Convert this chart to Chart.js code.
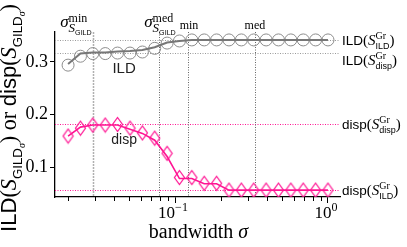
<!DOCTYPE html>
<html>
<head>
<meta charset="utf-8">
<script src="https://cdn.jsdelivr.net/npm/chart.js@4/dist/chart.umd.min.js"></script>
<style>
  html, body { margin: 0; padding: 0; background: #fff; }
  #wrap { width: 407px; height: 247px; }
</style>
</head>
<body>
<div id="wrap"><canvas id="chart" width="407" height="247"></canvas></div>
<script>
// bandwidth values (22 log-spaced points, 0.02 .. 1)
const sigma = [0.02, 0.0241, 0.0290, 0.0350, 0.0421, 0.0508, 0.0612, 0.0737, 0.0888, 0.1069, 0.1288,
               0.1552, 0.1870, 0.2253, 0.2714, 0.3270, 0.3940, 0.4747, 0.5719, 0.6890, 0.8301, 1.0];
const ildMarks  = [0.294, 0.311, 0.316, 0.316, 0.317, 0.317, 0.319, 0.326, 0.336, 0.340, 0.342,
                   0.342, 0.342, 0.342, 0.342, 0.342, 0.342, 0.342, 0.342, 0.342, 0.342, 0.342];
const ildLine   = [0.296, 0.316, 0.318, 0.318, 0.320, 0.321, 0.323, 0.328, 0.337, 0.340, 0.342,
                   0.342, 0.342, 0.342, 0.342, 0.342, 0.342, 0.342, 0.342, 0.342, 0.342, 0.342];
const dispMarks = [0.159, 0.174, 0.180, 0.180, 0.181, 0.174, 0.165, 0.155, 0.126, 0.080, 0.080,
                   0.069, 0.069, 0.056, 0.056, 0.056, 0.056, 0.056, 0.056, 0.056, 0.056, 0.056];
const dispLine  = [0.159, 0.176, 0.180, 0.180, 0.180, 0.172, 0.164, 0.151, 0.120, 0.078, 0.078,
                   0.068, 0.068, 0.056, 0.056, 0.056, 0.056, 0.056, 0.056, 0.056, 0.056, 0.056];

// reference levels: ILD(S_ILD), ILD(S_disp), disp(S_disp), disp(S_ILD)
const refLevels = [0.342, 0.317, 0.181, 0.056];
const refKinds  = ['ILD', 'ILD', 'disp', 'disp'];
const refSubs   = ['ILD', 'disp', 'disp', 'ILD'];
// vertical markers: sigma_min, sigma_med, min, med
const vLines = [0.029, 0.0786, 0.1216, 0.333];

const xTicks = [0.02, 0.03, 0.04, 0.05, 0.06, 0.07, 0.08, 0.09, 0.1, 0.2, 0.3, 0.4, 0.5, 0.6, 0.7, 0.8, 0.9, 1];
const xMajor = [0.1, 1];
const xMajorExp = ['\u22121', '0'];
const yTicks = [0.1, 0.2, 0.3];

const SERIF = '"Liberation Serif", "DejaVu Serif", serif';
const SANS = '"Liberation Sans", "DejaVu Sans", sans-serif';
const PINK = '#ff1493';
const f = (size, fam, style) => `${style || ''} ${size}px ${fam}`;

function makeDiamond(color) {
    const c = document.createElement('canvas');
    c.width = 13; c.height = 17;
    const g = c.getContext('2d');
    g.strokeStyle = color;
    g.lineWidth = 1.25;
    g.beginPath();
    g.moveTo(6.5, 1.5); g.lineTo(11.5, 8.5); g.lineTo(6.5, 15.5); g.lineTo(1.5, 8.5);
    g.closePath();
    g.stroke();
    return c;
}

// small rich-text helpers: a run is a list of [text, font, dy] or {up: run, dn: run}
function segWidth(ctx, s) {
    if (Array.isArray(s)) { ctx.font = s[1]; return ctx.measureText(s[0]).width; }
    return Math.max(runWidth(ctx, s.up), runWidth(ctx, s.dn));
}
function runWidth(ctx, run) {
    return run.reduce((w, s) => w + segWidth(ctx, s), 0);
}
function drawRun(ctx, run, x, y) {
    for (const s of run) {
        if (Array.isArray(s)) {
            ctx.font = s[1];
            ctx.fillText(s[0], x, y + (s[2] || 0));
            x += ctx.measureText(s[0]).width;
        } else {
            const w = segWidth(ctx, s);
            drawRun(ctx, s.up, x, y);
            drawRun(ctx, s.dn, x, y);
            x += w;
        }
    }
    return x;
}
function drawRich(ctx, run, x, y, align) {
    const w = runWidth(ctx, run);
    const x0 = align === 'center' ? x - w / 2 : align === 'right' ? x - w : x;
    ctx.textAlign = 'left';
    ctx.textBaseline = 'alphabetic';
    drawRun(ctx, run, x0, y);
}

function sGild(size) {
    return [['S', f(size, SERIF, 'italic'), 5], ['GILD', f(size * 0.55, SANS), 8]];
}
function yTitleRun(B) {
    const part = (name) => [
        [name, f(B, SANS)], ['(', f(B, SERIF)], ['S', f(B, SERIF, 'italic')],
        ['GILD', f(B * 0.6, SANS), B * 0.25], ['\u03c3', f(B * 0.45, SERIF, 'italic'), B * 0.42],
        [')', f(B, SERIF)]
    ];
    return [...part('ILD'), [' or ', f(B, SERIF)], ...part('disp')];
}

const overlay = {
    id: 'overlay',
    beforeDatasetsDraw(chart) {
        const { ctx, chartArea: a, scales: { x, y } } = chart;
        ctx.save();
        refLevels.forEach((v, i) => {
            const py = Math.round(y.getPixelForValue(v)) + 0.5;
            ctx.strokeStyle = refKinds[i] === 'ILD' ? '#9a9a9a' : PINK;
            ctx.lineWidth = 1;
            ctx.setLineDash([1, 1.5]);
            ctx.beginPath(); ctx.moveTo(a.left, py); ctx.lineTo(a.right, py); ctx.stroke();
        });
        vLines.forEach((v, i) => {
            const px = Math.round(x.getPixelForValue(v)) + 0.5;
            ctx.strokeStyle = i === 0 ? '#b0b0b0' : '#666';
            ctx.lineWidth = i === 0 ? 1.5 : 1;
            ctx.setLineDash(i === 0 ? [2, 1] : [1, 1.5]);
            ctx.beginPath(); ctx.moveTo(px, a.top); ctx.lineTo(px, a.bottom); ctx.stroke();
        });
        ctx.restore();
    },
    afterDraw(chart) {
        const { ctx, chartArea: a, scales: { x, y } } = chart;
        ctx.save();
        ctx.fillStyle = '#000';
        ctx.strokeStyle = '#000';

        // minor x ticks
        ctx.lineWidth = 1;
        xTicks.filter(v => !xMajor.includes(v)).forEach(v => {
            const px = Math.round(x.getPixelForValue(v)) + 0.5;
            ctx.beginPath(); ctx.moveTo(px, a.bottom); ctx.lineTo(px, a.bottom + 4); ctx.stroke();
        });
        // major x tick labels 10^e
        xMajor.forEach((v, i) => {
            drawRich(ctx, [['10', f(17, SERIF)], [xMajorExp[i], f(12, SERIF), -7]],
                     x.getPixelForValue(v) - 2, a.bottom + 21, 'center');
        });
        // x title
        drawRich(ctx, [['bandwidth ', f(20, SERIF)], ['\u03c3', f(20, SERIF, 'italic')]],
                 (a.left + a.right) / 2 + 1, 238, 'center');

        // y title, scaled to the reference length
        let B = 19;
        B = B * 228 / runWidth(ctx, yTitleRun(B));
        ctx.save();
        ctx.translate(16, 118);
        ctx.rotate(-Math.PI / 2);
        drawRich(ctx, yTitleRun(B), 0, 0, 'center');
        ctx.restore();

        // top labels at the vertical markers
        const top = a.top;
        drawRich(ctx, [['\u03c3', f(17, SERIF, 'italic')],
                       { up: [['min', f(12, SERIF), -5]], dn: sGild(13) }],
                 x.getPixelForValue(vLines[0]) - 1, top - 5, 'right');
        drawRich(ctx, [['\u03c3', f(17, SERIF, 'italic')],
                       { up: [['med', f(12, SERIF), -5]], dn: sGild(13) }],
                 x.getPixelForValue(vLines[1]) + 1, top - 5, 'center');
        drawRich(ctx, [['min', f(12, SERIF)]], x.getPixelForValue(vLines[2]) + 1, top - 3, 'center');
        drawRich(ctx, [['med', f(12, SERIF)]], x.getPixelForValue(vLines[3]), top - 3, 'center');

        // curve labels
        ctx.fillStyle = '#222';
        drawRich(ctx, [['ILD', f(15, SANS)]], x.getPixelForValue(0.0465), y.getPixelForValue(0.279), 'center');
        drawRich(ctx, [['disp', f(14, SANS)]], x.getPixelForValue(0.0465), y.getPixelForValue(0.1435), 'center');

        // right-hand reference labels
        ctx.fillStyle = '#000';
        const offs = [5, 12, 5, 5];
        refLevels.forEach((v, i) => {
            const py = y.getPixelForValue(v) + offs[i];
            drawRich(ctx, [
                [refKinds[i], f(13.5, SANS)], ['(', f(15, SERIF)], ['S', f(15, SERIF, 'italic')],
                { up: [['Gr', f(10, SERIF), -6]], dn: [[refSubs[i], f(9, SANS), 4]] },
                [')', f(15, SERIF)]
            ], a.right + 2, py, 'left');
        });
        ctx.restore();
    }
};

const pts = (vals) => sigma.map((s, i) => ({ x: s, y: vals[i] }));

new Chart(document.getElementById('chart'), {
    type: 'line',
    data: {
        datasets: [
            { data: pts(ildMarks), showLine: false, pointStyle: 'circle', pointRadius: 6,
              pointBorderColor: '#8c8c8c', pointBackgroundColor: 'rgba(0,0,0,0)', pointBorderWidth: 1, order: 2 },
            { data: pts(ildLine), borderColor: '#777', borderWidth: 2, pointRadius: 0, tension: 0, order: 1 },
            { data: pts(dispMarks), showLine: false, pointStyle: makeDiamond(PINK), pointRadius: 7,
              order: 2 },
            { data: pts(dispLine), borderColor: PINK, borderWidth: 1.6, pointRadius: 0, tension: 0, order: 1 }
        ]
    },
    options: {
        responsive: false,
        animation: false,
        devicePixelRatio: 1,
        layout: { padding: { top: 32, right: 67, left: 0, bottom: 0 } },
        plugins: { legend: { display: false }, tooltip: { enabled: false }, title: { display: false } },
        scales: {
            x: {
                type: 'logarithmic',
                min: 0.01643,
                max: 1.198,
                afterFit: s => { s.height = 50; },
                afterBuildTicks: s => { s.ticks = xTicks.map(v => ({ value: v })); },
                ticks: { callback: () => '', autoSkip: false, maxRotation: 0 },
                grid: {
                    drawOnChartArea: false, drawTicks: true, tickLength: 6,
                    tickColor: c => (c.tick && xMajor.includes(c.tick.value)) ? '#000' : 'rgba(0,0,0,0)'
                },
                border: { display: true, color: '#000', width: 1.3 }
            },
            y: {
                min: 0.0429,
                max: 0.3571,
                afterFit: s => { s.width = 55; },
                afterBuildTicks: s => { s.ticks = yTicks.map(v => ({ value: v })); },
                ticks: { callback: v => v.toFixed(1), color: '#000', padding: 2,
                         font: { family: SERIF, size: 18 } },
                grid: { drawOnChartArea: false, drawTicks: true, tickLength: 5, tickColor: '#000' },
                border: { display: true, color: '#000', width: 1.3 }
            }
        }
    },
    plugins: [overlay]
});
</script>
</body>
</html>
